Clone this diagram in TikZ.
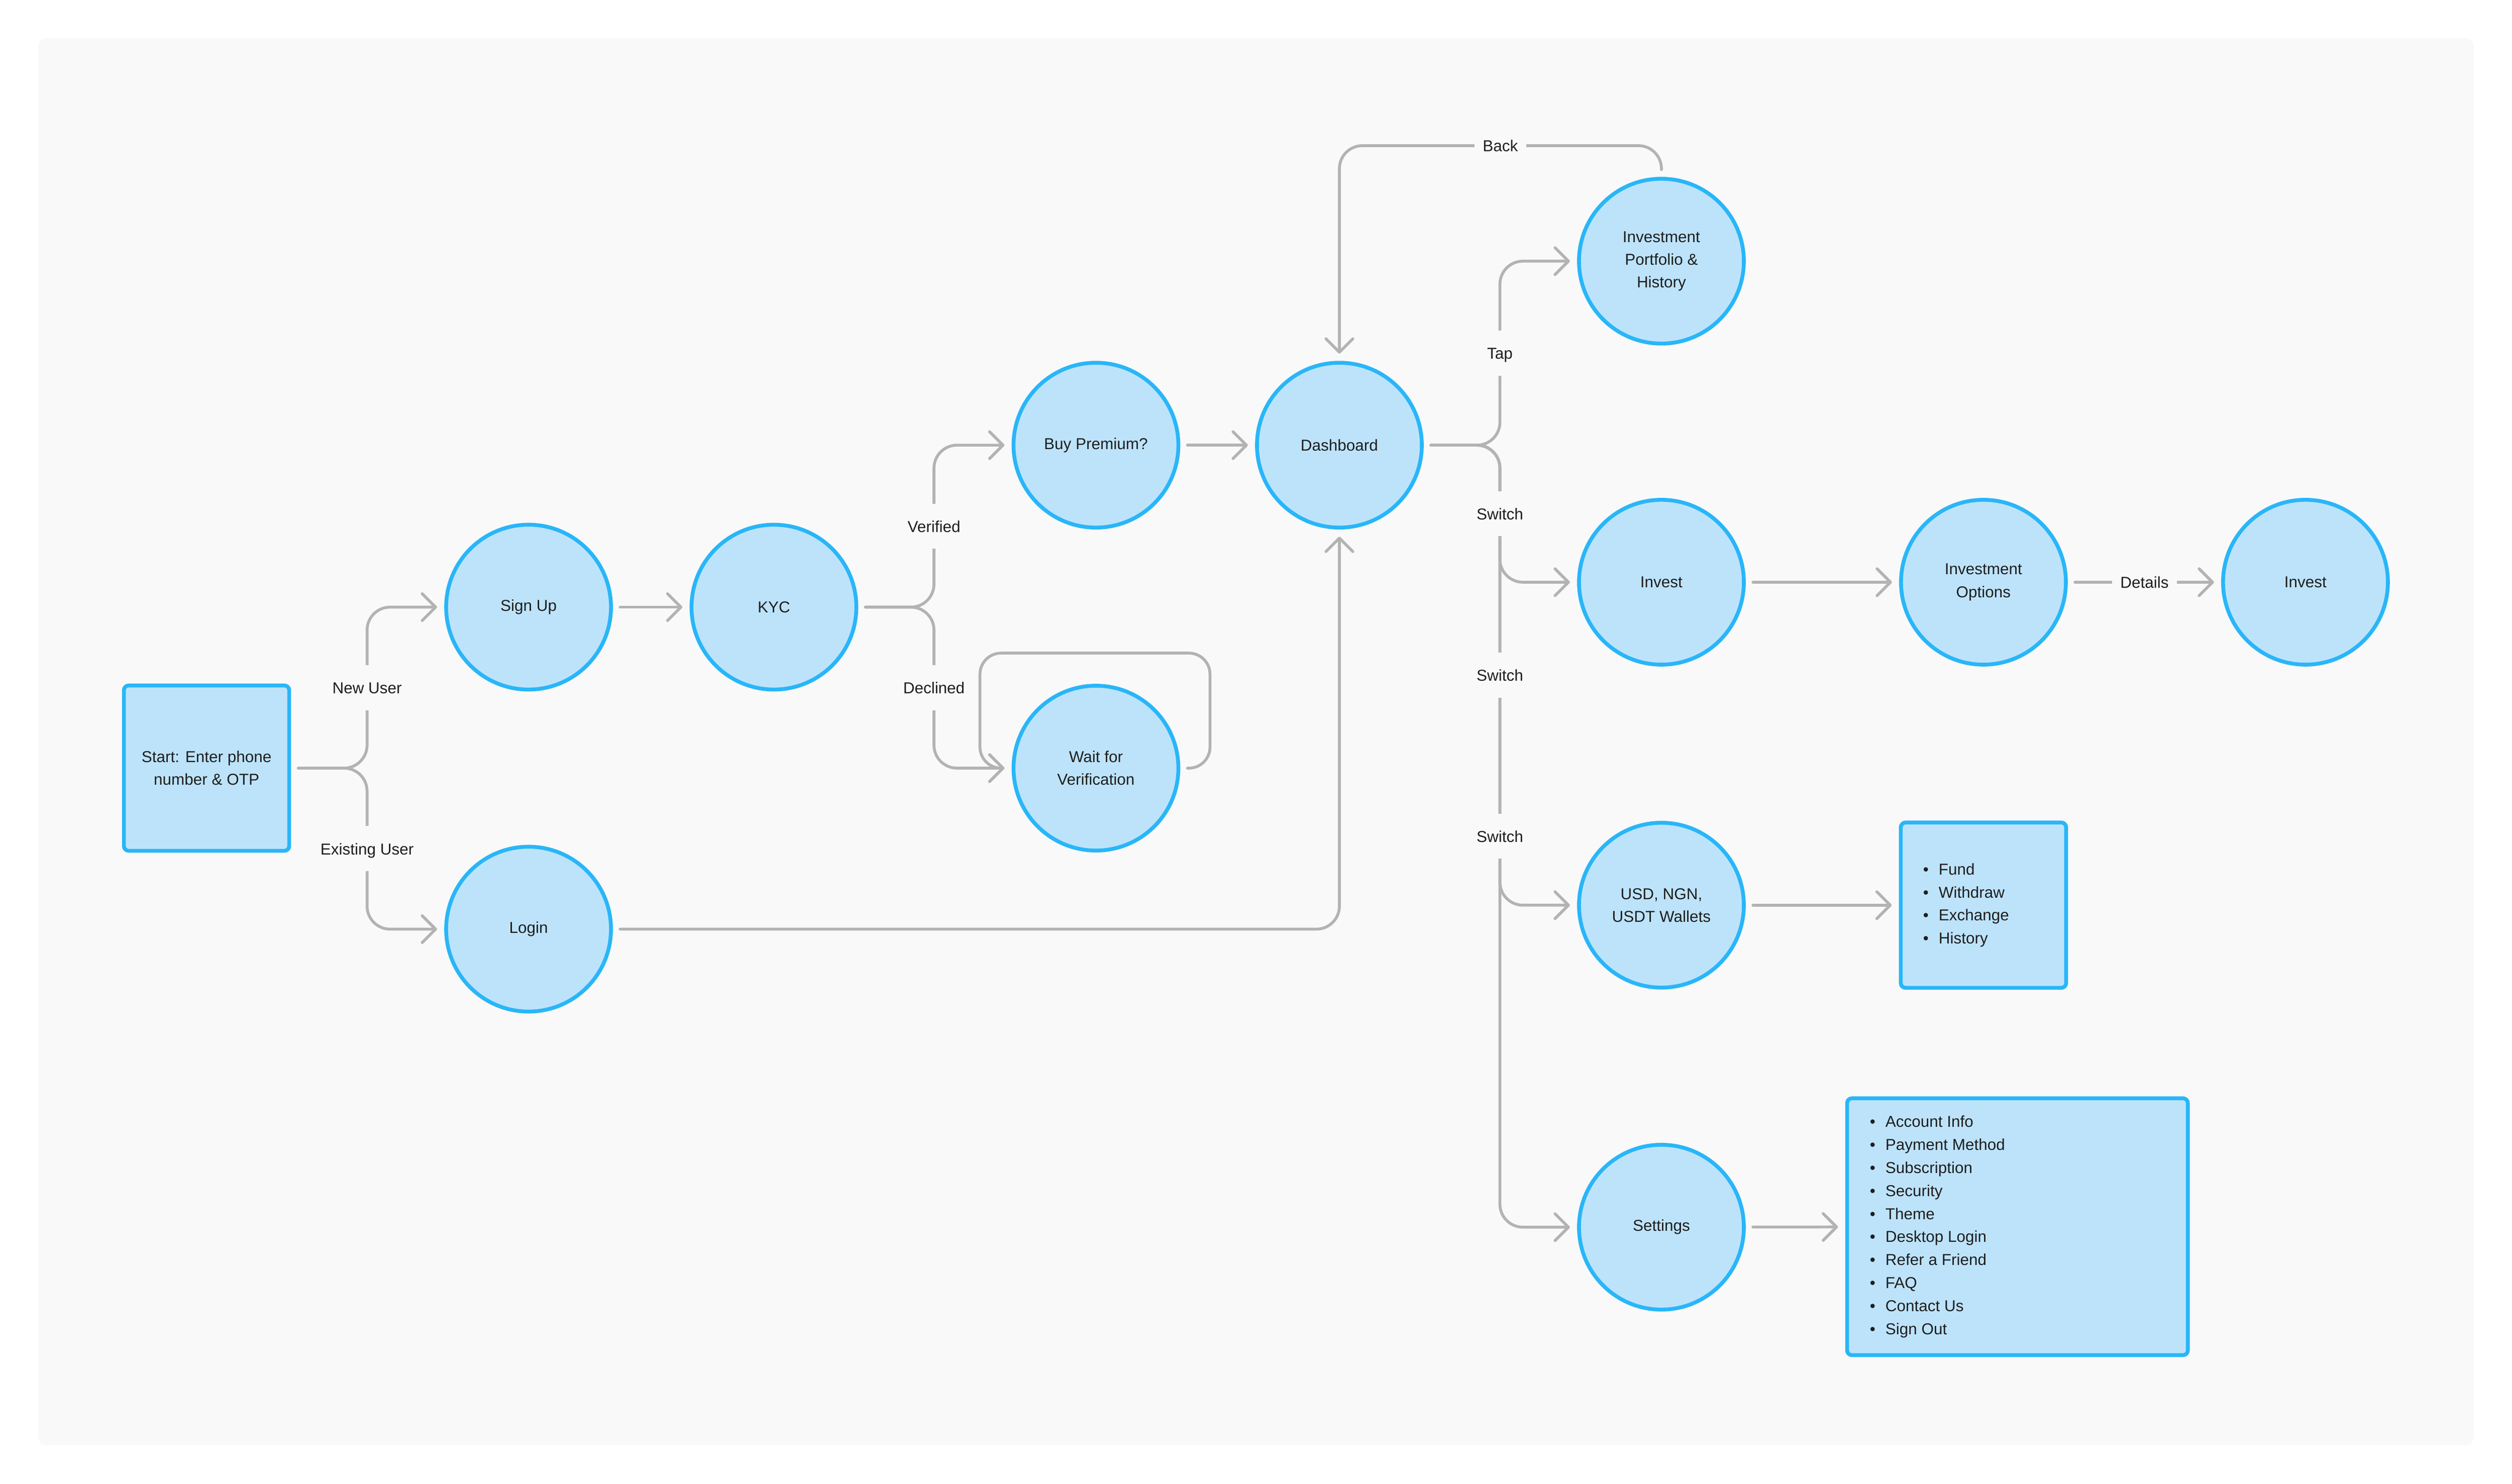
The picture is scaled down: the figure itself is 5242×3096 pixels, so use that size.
\documentclass[tikz,border=0pt]{standalone}
\usepackage{fontspec}
\setmainfont{Liberation Sans}
\usetikzlibrary{arrows.meta,calc}
\definecolor{panelbg}{HTML}{F9F9F9}
\definecolor{nodefill}{HTML}{BDE3FB}
\definecolor{nodeline}{HTML}{29B6F8}
\definecolor{conncol}{HTML}{B3B3B3}
\definecolor{txtcol}{HTML}{1E1E1E}
\tikzset{
  statenode/.style={circle, draw=nodeline, fill=nodefill, line width=1.6pt, minimum size=68.8pt, inner sep=0pt, outer sep=3.8pt, align=center, text=txtcol},
  boxnode/.style={rectangle, rounded corners=2pt, draw=nodeline, fill=nodefill, line width=1.6pt, inner sep=0pt, outer sep=3.8pt, text=txtcol},
  conn/.style={draw=conncol, line width=1.2pt, line cap=round, line join=round, rounded corners=9.6pt, -{Straight Barb[length=5.6pt,width=11.2pt,round]}},
  lbl/.style={fill=panelbg, text=txtcol, inner xsep=3.4pt, inner ysep=4.7pt, text height=0.72em, text depth=0.22em},
  listtext/.style={anchor=west, inner sep=0pt, align=left, text=txtcol, font=\fontsize{6.6pt}{9.6pt}\selectfont},
}
\begin{document}
\begin{tikzpicture}[x=0.2pt, y=-0.2pt, every node/.append style={font=\fontsize{6.6pt}{9.5pt}\selectfont}]
\useasboundingbox (0,0) rectangle (5242,3096);
\fill[panelbg, rounded corners=3.2pt] (80,80) rectangle (5162,3016);

% nodes
\node[boxnode, minimum width=69pt, minimum height=69pt, align=center] (start) at (431,1603) {Start: Enter phone\\number \& OTP};
\node[statenode] (signup) at (1103,1267) {Sign Up};
\node[statenode] (login) at (1103,1939) {Login};
\node[statenode] (kyc) at (1615,1267) {KYC};
\node[statenode] (buy) at (2287,929) {Buy Premium?};
\node[statenode] (wait) at (2287,1603) {Wait for\\Verification};
\node[statenode] (dash) at (2795,929) {Dashboard};
\node[statenode] (port) at (3467,545) {Investment\\Portfolio \&\\History};
\node[statenode] (invest) at (3467,1215) {Invest};
\node[statenode] (options) at (4139,1215) {Investment\\Options};
\node[statenode] (invest2) at (4811,1215) {Invest};
\node[statenode] (wallets) at (3467,1889) {USD, NGN,\\USDT Wallets};
\node[statenode] (settings) at (3467,2561) {Settings};
\node[boxnode, minimum width=69pt, minimum height=69pt] (walletbox) at (4139,1889) {};
\node[boxnode, minimum width=142.2pt, minimum height=107.2pt] (setbox) at (4210,2560) {};
\node[listtext] (walletlist) at (4012,1889) {\textbullet\hspace{4.2pt}Fund\\\textbullet\hspace{4.2pt}Withdraw\\\textbullet\hspace{4.2pt}Exchange\\\textbullet\hspace{4.2pt}History};
\node[listtext] (setlist) at (3901,2560) {\textbullet\hspace{4.2pt}Account Info\\\textbullet\hspace{4.2pt}Payment Method\\\textbullet\hspace{4.2pt}Subscription\\\textbullet\hspace{4.2pt}Security\\\textbullet\hspace{4.2pt}Theme\\\textbullet\hspace{4.2pt}Desktop Login\\\textbullet\hspace{4.2pt}Refer a Friend\\\textbullet\hspace{4.2pt}FAQ\\\textbullet\hspace{4.2pt}Contact Us\\\textbullet\hspace{4.2pt}Sign Out};

% junction coordinates
\coordinate (jstart) at (766,1603);
\coordinate (jkyc) at (1949,1267);
\coordinate (jdash) at (3130,929);
\coordinate (lpr) at (2525,1603);
\coordinate (lpt) at (2525,1363);
\coordinate (lpl) at (2045,1363);
\coordinate (lpb) at (2045,1603);
\coordinate (backtop) at (3467,304);

% connectors
\draw[conn] (start.east) -- (jstart) |- (signup.west);
\draw[conn] (start.east) -- (jstart) |- (login.west);
\draw[conn] (signup) -- (kyc);
\draw[conn] (kyc.east) -- (jkyc) |- (buy.west);
\draw[conn] (kyc.east) -- (jkyc) |- (wait.west);
\draw[conn, rounded corners=8.8pt] (wait.east) -- (lpr) -- (lpt) -- (lpl) -- (lpb) -- (wait.west);
\draw[conn] (buy) -- (dash);
\draw[conn] (login.east) -| (dash.south);
\draw[conn] (port.north) -- (backtop) -| (dash.north);
\draw[conn] (dash.east) -- (jdash) |- (port.west);
\draw[conn] (dash.east) -- (jdash) |- (invest.west);
\draw[conn] (dash.east) -- (jdash) |- (wallets.west);
\draw[conn] (dash.east) -- (jdash) |- (settings.west);
\draw[conn] (invest) -- (options);
\draw[conn] (options) -- (invest2);
\draw[conn] (wallets) -- (walletbox);
\draw[conn] (settings) -- (setbox);

% labels
\node[lbl] (lnew) at (766,1435) {New User};
\node[lbl] (lexist) at (766,1771) {Existing User};
\node[lbl] (lverified) at (1949,1098) {Verified};
\node[lbl] (ldeclined) at (1949,1435) {Declined};
\node[lbl] (lback) at (3131,304) {Back};
\node[lbl] (ltap) at (3130,737) {Tap};
\node[lbl] (lsw1) at (3130,1072) {Switch};
\node[lbl] (lsw2) at (3130,1409) {Switch};
\node[lbl] (lsw3) at (3130,1745) {Switch};
\node[lbl] (ldetails) at (4475,1215) {Details};
\end{tikzpicture}
\end{document}
